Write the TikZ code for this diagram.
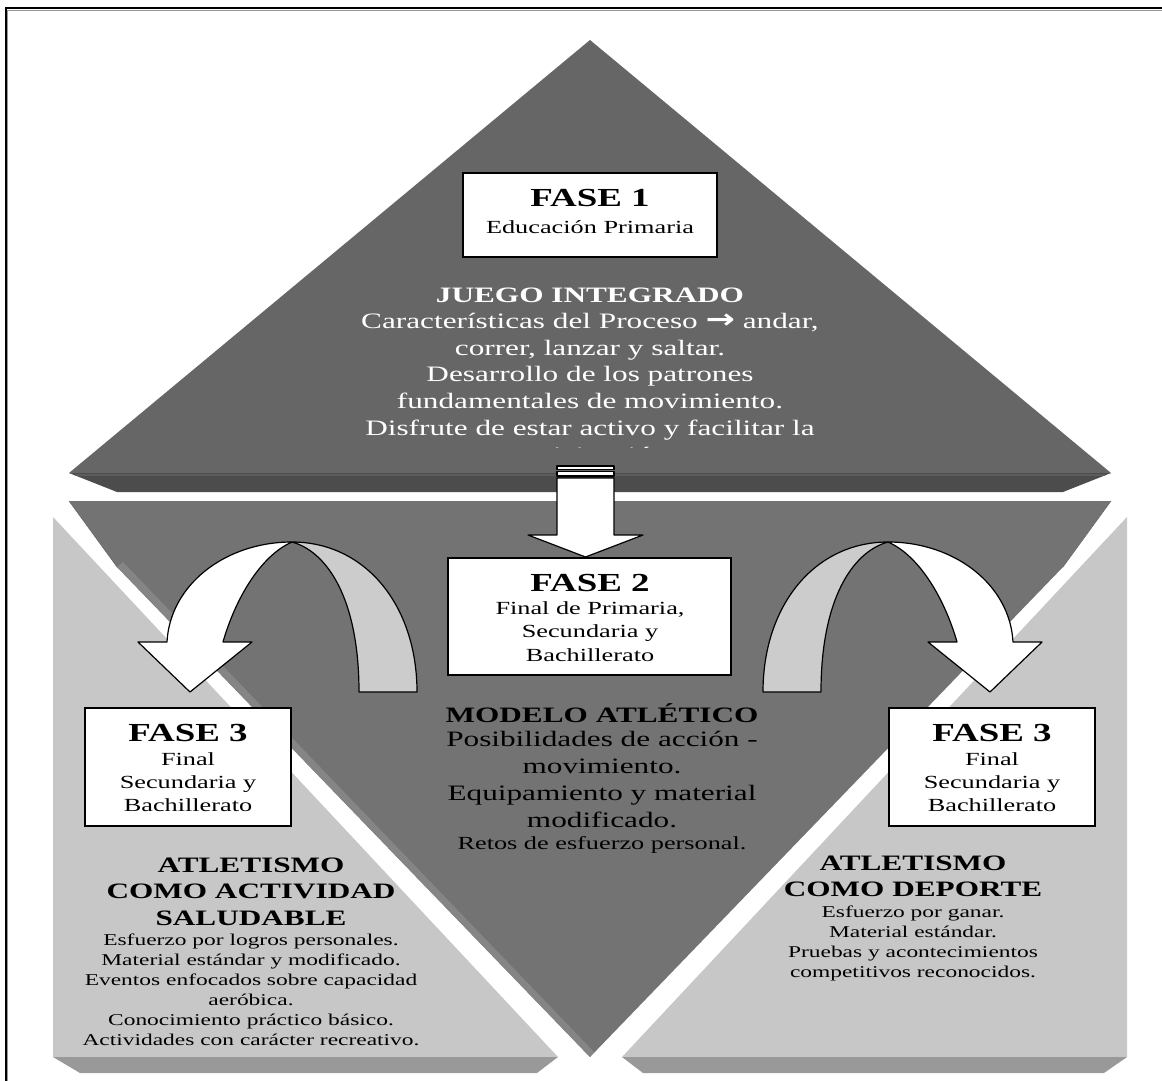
\documentclass[tikz,border=0pt]{standalone}
\usepackage{fontspec}
\setmainfont{Liberation Serif}[FakeStretch=1.42]
\newfontfamily\arrowfont{DejaVu Sans}[FakeStretch=1.3]
\usetikzlibrary{positioning}

\definecolor{topface}{gray}{0.40}
\definecolor{topbevel}{gray}{0.30}
\definecolor{topline}{gray}{0.36}
\definecolor{midface}{gray}{0.45}
\definecolor{midbevel}{gray}{0.52}
\definecolor{midline}{gray}{0.38}
\definecolor{sideface}{gray}{0.78}
\definecolor{sidebevel}{gray}{0.60}
\definecolor{bandback}{gray}{0.80}

\tikzset{
	phasebox/.style={draw=black,line width=1.3pt,fill=white,inner sep=0pt},
	phasetitle/.style={font=\bfseries\fontsize{26}{28}\selectfont,inner sep=0pt},
	phasetext/.style={font=\fontsize{18.5}{23.3}\selectfont,align=center,inner sep=0pt},
	headtext/.style={font=\bfseries\fontsize{22}{26.6}\selectfont,align=center,inner sep=0pt},
	bodytext/.style={font=\fontsize{22}{26.8}\selectfont,align=center,inner sep=0pt},
	smalltext/.style={font=\fontsize{16.5}{20}\selectfont,align=center,inner sep=0pt},
	blockarrow/.style={draw=black,line width=1.2pt,line join=round},
	turnarrow/.pic={
		% back of the band
		\filldraw[blockarrow,fill=bandback] (-298,542) .. controls (-225,542) and (-173,605) .. (-173,692)
			-- (-231,692) .. controls (-231,600) and (-262,552) .. (-298,542) -- cycle;
		% front of the band with the head
		\filldraw[blockarrow,fill=white] (-298,542) .. controls (-365,542) and (-420,585) .. (-423,642)
			-- (-452,642) -- (-400,692) -- (-338,642) -- (-367,642)
			.. controls (-355,600) and (-330,556) .. (-298,542) -- cycle;
	}
}

\begin{document}
\begin{tikzpicture}[x=1pt,y=-1pt]
	\useasboundingbox (0,0) rectangle (1162,1081);
	\coordinate (T) at (590,40);
	\coordinate (L) at (69,473);
	\coordinate (R) at (1111,473);
	\coordinate (B) at (590,1057);
	% page frame
	\draw[black!40,line width=1.5] (1162,10.5) -- (7.5,10.5) -- (7.5,1081);
	\draw[line width=2] (1162,8.5) -- (5.5,8.5) -- (5.5,1081);
	% side pieces
	\fill[sideface] (53,517) -- (53,1057) -- (558,1057) -- cycle;
	\fill[sidebevel] (53,1057) -- (80,1073) -- (537,1073) -- (558,1057) -- cycle;
	\fill[sideface] (1127,517) -- (1127,1057) -- (622,1057) -- cycle;
	\fill[sidebevel] (1127,1057) -- (1104,1073) -- (643,1073) -- (622,1057) -- cycle;
	% middle piece
	\fill[midface] (69,501) -- (1111,501) -- (1063,567) -- (B) -- (117,567) -- cycle;
	\fill[midbevel] (117,567) -- (B) -- (594,1052) -- (123,562) -- cycle;
	\draw[midline] (69,501) -- (117,567);
	\draw[midline] (1111,501) -- (1063,567);
	% top piece
	\fill[topface] (T) -- (L) -- (R) -- cycle;
	\fill[topbevel] (L) -- (117,492) -- (1063,492) -- (R) -- cycle;
	\draw[topline,line width=2] (75,475) -- (1105,475);

	\begin{scope}
		\clip (0,0) rectangle (1162,447);
		\node[bodytext,text=white] (juegotxt) at (590,390) {Características del Proceso {\arrowfont\bfseries\fontsize{27}{26.8}\selectfont →} andar,\\correr, lanzar y saltar.\\Desarrollo de los patrones\\fundamentales de movimiento.\\Disfrute de estar activo y facilitar la\\participación.};
	\end{scope}
	\node[headtext,text=white] (juego) at (590,295) {JUEGO INTEGRADO};

	\node[phasebox,minimum width=254,minimum height=84] (fase1) at (590,215) {};
	\node[phasetitle] (fase1t) at (590,198) {FASE 1};
	\node[phasetext] (fase1s) at (590,227) {Educación Primaria};

	% arrow from phase 1 to phase 2
	\filldraw[blockarrow,fill=white] (557,466) rectangle (614,469.5);
	\filldraw[blockarrow,fill=white] (557,471.5) rectangle (614,476);
	\filldraw[blockarrow,fill=white] (557,478) -- (614,478) -- (614,535) -- (643,535) -- (585.5,557) -- (528,535) -- (557,535) -- cycle;

	\node[phasebox,minimum width=283,minimum height=117] (fase2) at (589.5,616.5) {};
	\node[phasetitle] (fase2t) at (590,583) {FASE 2};
	\node[phasetext] (fase2s) at (590,631.5) {Final de Primaria,\\Secundaria y\\Bachillerato};

	\pic (turnL) at (590,0) {turnarrow};
	\pic[xscale=-1] (turnR) at (590,0) {turnarrow};

	\node[phasebox,minimum width=206,minimum height=118] (fase3a) at (188,767) {};
	\node[phasetitle] (fase3at) at (188,733) {FASE 3};
	\node[phasetext] (fase3as) at (188,782) {Final\\Secundaria y\\Bachillerato};
	\node[phasebox,minimum width=206,minimum height=118] (fase3b) at (992,767) {};
	\node[phasetitle] (fase3bt) at (992,733) {FASE 3};
	\node[phasetext] (fase3bs) at (992,782) {Final\\Secundaria y\\Bachillerato};

	\node[headtext] (modelo) at (602,713) {MODELO ATLÉTICO};
	\node[bodytext] (modelotxt) at (602,779.5) {Posibilidades de acción -\\movimiento.\\Equipamiento y material\\modificado.};
	\node[phasetext] (retos) at (602,845) {Retos de esfuerzo personal.};

	\node[headtext] (salud) at (251,891.5) {ATLETISMO\\COMO ACTIVIDAD\\SALUDABLE};
	\node[smalltext] (saludtxt) at (251,990) {Esfuerzo por logros personales.\\Material estándar y modificado.\\Eventos enfocados sobre capacidad\\aeróbica.\\Conocimiento práctico básico.\\Actividades con carácter recreativo.};
	\node[headtext] (deporte) at (913,876.5) {ATLETISMO\\COMO DEPORTE};
	\node[smalltext] (deportetxt) at (913,943) {Esfuerzo por ganar.\\Material estándar.\\Pruebas y acontecimientos\\competitivos reconocidos.};
\end{tikzpicture}
\end{document}
